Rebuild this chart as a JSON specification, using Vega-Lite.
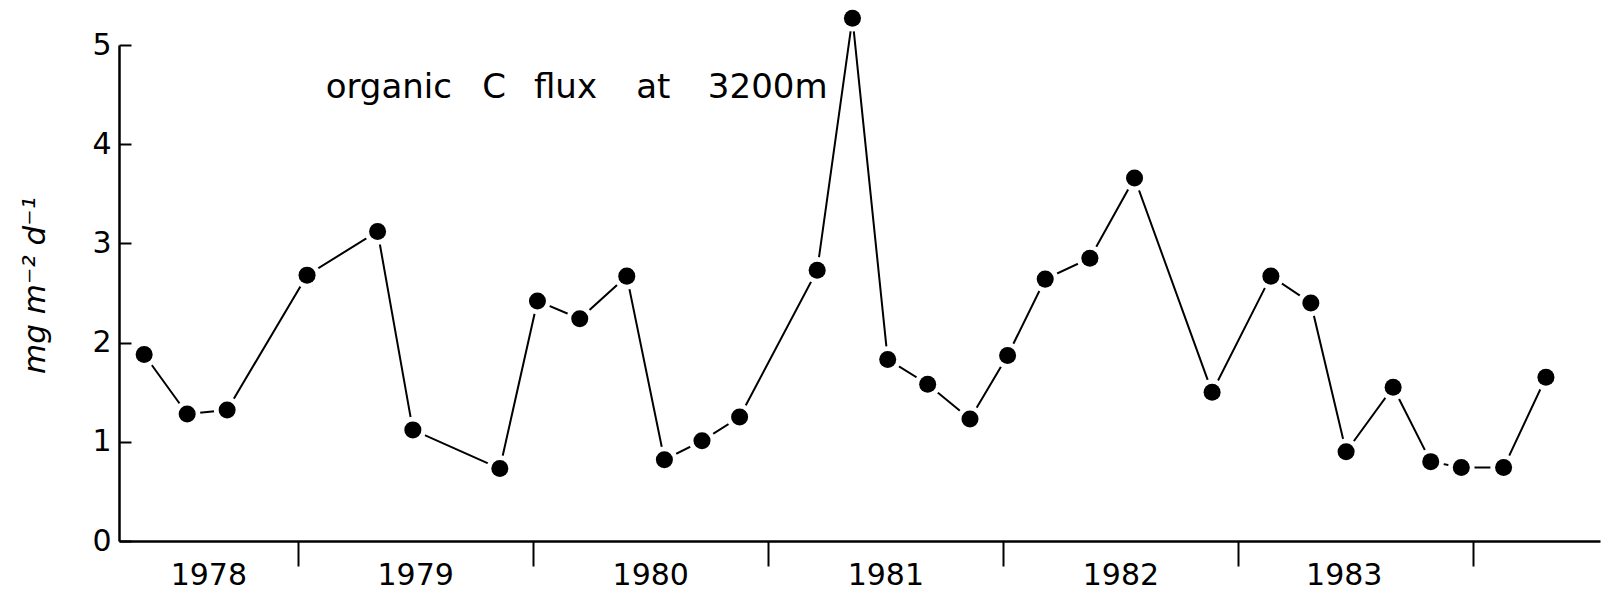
{
  "$schema": "https://vega.github.io/schema/vega-lite/v6.json",
  "autosize": {"type": "none"},
  "padding": {"left": 119, "top": 45, "right": 6, "bottom": 56},
  "width": 1481,
  "height": 496,
  "background": "white",
  "config": {"view": {"stroke": null}, "font": "DejaVu Sans"},
  "datasets": {
    "flux": [
      {"year": 1978.347, "flux": 1.88},
      {"year": 1978.53, "flux": 1.28},
      {"year": 1978.70, "flux": 1.32},
      {"year": 1979.04, "flux": 2.68},
      {"year": 1979.34, "flux": 3.12},
      {"year": 1979.49, "flux": 1.12},
      {"year": 1979.86, "flux": 0.73},
      {"year": 1980.02, "flux": 2.42},
      {"year": 1980.20, "flux": 2.24},
      {"year": 1980.40, "flux": 2.67},
      {"year": 1980.56, "flux": 0.82},
      {"year": 1980.72, "flux": 1.01},
      {"year": 1980.88, "flux": 1.25},
      {"year": 1981.21, "flux": 2.73},
      {"year": 1981.36, "flux": 5.27},
      {"year": 1981.51, "flux": 1.83},
      {"year": 1981.68, "flux": 1.58},
      {"year": 1981.86, "flux": 1.23},
      {"year": 1982.02, "flux": 1.87},
      {"year": 1982.18, "flux": 2.64},
      {"year": 1982.37, "flux": 2.85},
      {"year": 1982.56, "flux": 3.66},
      {"year": 1982.89, "flux": 1.50},
      {"year": 1983.14, "flux": 2.67},
      {"year": 1983.31, "flux": 2.40},
      {"year": 1983.46, "flux": 0.90},
      {"year": 1983.66, "flux": 1.55},
      {"year": 1983.82, "flux": 0.80},
      {"year": 1983.95, "flux": 0.74},
      {"year": 1984.13, "flux": 0.74},
      {"year": 1984.31, "flux": 1.65}
    ],
    "note": [
      {"year": 1979.119, "flux": 4.466, "word": "organic"},
      {"year": 1979.785, "flux": 4.466, "word": "C"},
      {"year": 1980.005, "flux": 4.466, "word": "flux"},
      {"year": 1980.440, "flux": 4.466, "word": "at"},
      {"year": 1980.745, "flux": 4.466, "word": "3200m"}
    ]
  },
  "encoding": {
    "x": {
      "field": "year",
      "type": "quantitative",
      "scale": {"domain": [1978.24, 1984.54], "nice": false, "zero": false},
      "axis": {
        "values": [1978.62, 1979, 1979.5, 1980, 1980.5, 1981, 1981.5, 1982, 1982.5, 1983, 1983.45, 1984],
        "labelExpr": "datum.value % 1 == 0 ? '' : format(floor(datum.value), 'd')",
        "title": null,
        "grid": false,
        "domainColor": "black",
        "domainWidth": 2.5,
        "tickColor": "black",
        "tickWidth": 2,
        "tickSize": 25,
        "tickOpacity": {"condition": {"test": "datum.value % 1 == 0", "value": 1}, "value": 0},
        "labelFont": "DejaVu Sans",
        "labelFontSize": 30,
        "labelColor": "black",
        "labelPadding": -6,
        "labelFlush": false,
        "labelOverlap": false
      }
    },
    "y": {
      "field": "flux",
      "type": "quantitative",
      "scale": {"domain": [0, 5], "nice": false},
      "axis": {
        "values": [0, 1, 2, 3, 4, 5],
        "format": "d",
        "title": "mg m⁻² d⁻¹",
        "titleFont": "DejaVu Sans",
        "titleFontStyle": "italic",
        "titleFontWeight": "normal",
        "titleFontSize": 31,
        "titleColor": "black",
        "titleAngle": -90,
        "titleX": -84,
        "titleY": 240,
        "titleAlign": "center",
        "titleBaseline": "middle",
        "grid": false,
        "domainColor": "black",
        "domainWidth": 2.5,
        "tickColor": "black",
        "tickWidth": 2,
        "tickSize": -12,
        "labelFont": "DejaVu Sans",
        "labelFontSize": 30,
        "labelColor": "black",
        "labelPadding": 20,
        "labelFlush": false
      }
    }
  },
  "layer": [
    {
      "data": {"name": "flux"},
      "mark": {"type": "line", "color": "black", "strokeWidth": 2}
    },
    {
      "data": {"name": "flux"},
      "mark": {"type": "point", "shape": "circle", "filled": true, "color": "white", "opacity": 1, "size": 700}
    },
    {
      "data": {"name": "flux"},
      "mark": {"type": "point", "shape": "circle", "filled": true, "color": "black", "opacity": 1, "size": 290}
    },
    {
      "data": {"name": "note"},
      "mark": {"type": "text", "align": "left", "baseline": "alphabetic", "fontSize": 34, "font": "DejaVu Sans", "color": "black"},
      "encoding": {"text": {"field": "word", "type": "nominal"}}
    }
  ]
}
